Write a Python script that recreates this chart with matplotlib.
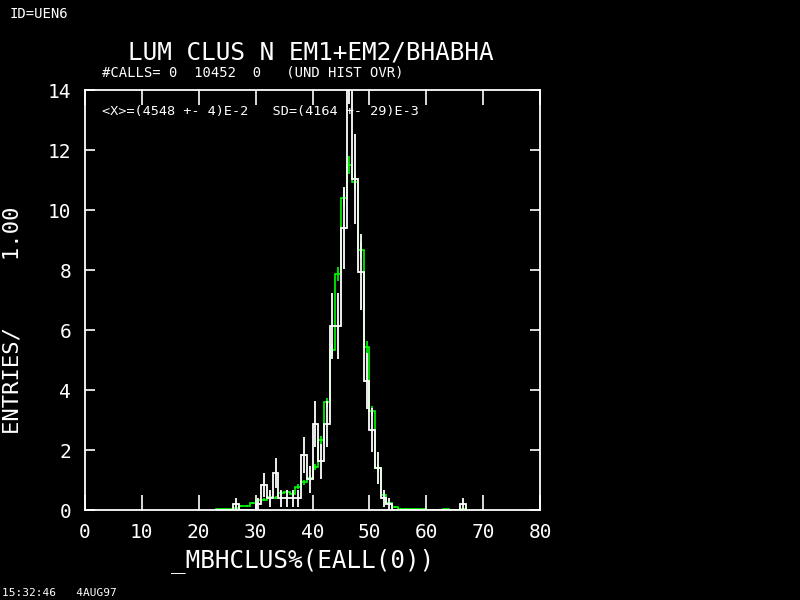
import matplotlib

matplotlib.use("Agg")
import matplotlib.pyplot as plt  # noqa: E402
import numpy as np  # noqa: E402

_BG = "black"
_FG = "white"
_MC = "#00ff00"
_FONT = "DejaVu Sans Mono"

# histogram bins of width 1, starting at x = 23
first_bin = 23

# data (white): contents and errors, bins 23..66
data_vals = [0, 0, 0, 0.2, 0, 0, 0, 0.2, 0.82, 0.39,
             1.22, 0.39, 0.39, 0.39, 0.39, 1.83, 1.03, 2.87, 1.62, 2.87,
             6.13, 6.13, 9.4, 15.3, 11.03, 7.94, 4.3, 2.67, 1.41, 0.39,
             0.2, 0, 0, 0, 0, 0, 0, 0, 0, 0,
             0, 0, 0, 0.2]
data_errs = [0, 0, 0, 0.2, 0, 0, 0, 0.2, 0.4, 0.28,
             0.5, 0.28, 0.28, 0.28, 0.28, 0.6, 0.45, 0.76, 0.57, 0.76,
             1.1, 1.1, 1.37, 1.75, 1.5, 1.26, 0.93, 0.73, 0.53, 0.28,
             0.2, 0, 0, 0, 0, 0, 0, 0, 0, 0,
             0, 0, 0, 0.2]

# reference (green): contents and errors, bins 23..66
mc_vals = [0.02, 0.03, 0.03, 0.06, 0.13, 0.13, 0.23, 0.33, 0.34, 0.43,
           0.41, 0.56, 0.6, 0.53, 0.78, 0.92, 1.06, 1.42, 2.33, 3.59,
           5.33, 7.87, 10.4, 11.5, 10.95, 8.67, 5.45, 3.3, 1.39, 0.49,
           0.22, 0.1, 0.05, 0.04, 0.02, 0.03, 0.02, 0.01, 0, 0,
           0.02, 0, 0, 0.02]
mc_errs = [0.01, 0.015, 0.015, 0.02, 0.03, 0.03, 0.04, 0.05, 0.05, 0.06,
           0.055, 0.065, 0.07, 0.065, 0.08, 0.085, 0.09, 0.1, 0.13, 0.16,
           0.2, 0.245, 0.28, 0.3, 0.29, 0.26, 0.2, 0.16, 0.1, 0.06,
           0.04, 0.03, 0.02, 0.02, 0.01, 0.015, 0.01, 0.01, 0, 0,
           0.01, 0, 0, 0.01]

x_ticks = [0, 10, 20, 30, 40, 50, 60, 70, 80]
y_ticks = [0, 2, 4, 6, 8, 10, 12, 14]

fig = plt.figure(figsize=(8, 6), dpi=100)
fig.patch.set_facecolor(_BG)
ax = fig.add_axes([85 / 800, 90 / 600, 455 / 800, 420 / 600])
ax.set_facecolor(_BG)

edges = np.arange(first_bin, first_bin + len(data_vals) + 1)
centers = edges[:-1] + 0.5

# green reference histogram with small error crosses
ax.stairs(mc_vals, edges, color=_MC, linewidth=1.2)
mc_v = np.array(mc_vals)
mc_e = np.array(mc_errs)
m = mc_v > 0
ax.vlines(centers[m], mc_v[m] - mc_e[m], mc_v[m] + mc_e[m], color=_MC, linewidth=1.2)

# white data histogram with error bars
ax.stairs(data_vals, edges, color=_FG, linewidth=1.3)
d_v = np.array(data_vals)
d_e = np.array(data_errs)
d = d_v > 0
ax.vlines(centers[d], d_v[d] - d_e[d], d_v[d] + d_e[d], color=_FG, linewidth=1.3)

ax.set_xlim(0, 80)
ax.set_ylim(0, 14)
for spine in ax.spines.values():
    spine.set_color(_FG)
    spine.set_linewidth(1.3)

ax.set_xticks(x_ticks)
ax.set_yticks(y_ticks)
ax.tick_params(axis="x", direction="in", length=10.8, width=1.2, colors=_FG,
               top=True, pad=9, labelsize=14)
ax.tick_params(axis="y", direction="in", length=7.2, width=1.2, colors=_FG,
               right=True, pad=10, labelsize=14)
for lab in ax.get_xticklabels() + ax.get_yticklabels():
    lab.set_family(_FONT)

# texts
fig.text(10 / 800, 1 - 14 / 600, "ID=UEN6", color=_FG, family=_FONT,
         fontsize=10, va="center", ha="left")
fig.text(311 / 800, 1 - 52 / 600, "LUM CLUS N EM1+EM2/BHABHA", color=_FG,
         family=_FONT, fontsize=17.6, va="center", ha="center")
fig.text(102 / 800, 1 - 72 / 600, "#CALLS= 0  10452  0   (UND HIST OVR)",
         color=_FG, family=_FONT, fontsize=10, va="center", ha="left")
fig.text(102 / 800, 1 - 111 / 600, "<X>=(4548 +- 4)E-2   SD=(4164 +- 29)E-3",
         color=_FG, family=_FONT, fontsize=9.7, va="center", ha="left")
fig.text(303 / 800, 1 - 561 / 600, "_MBHCLUS%(EALL(0))", color=_FG,
         family=_FONT, fontsize=17.5, va="center", ha="center")
fig.text(13 / 800, 1 - 320 / 600, "ENTRIES/     1.00", color=_FG,
         family=_FONT, fontsize=16, va="center", ha="center", rotation=90)
fig.text(2 / 800, 1 - 593 / 600, "15:32:46   4AUG97", color=_FG,
         family=_FONT, fontsize=8, va="center", ha="left")

fig.savefig("out.png", dpi=100, facecolor=fig.get_facecolor())
